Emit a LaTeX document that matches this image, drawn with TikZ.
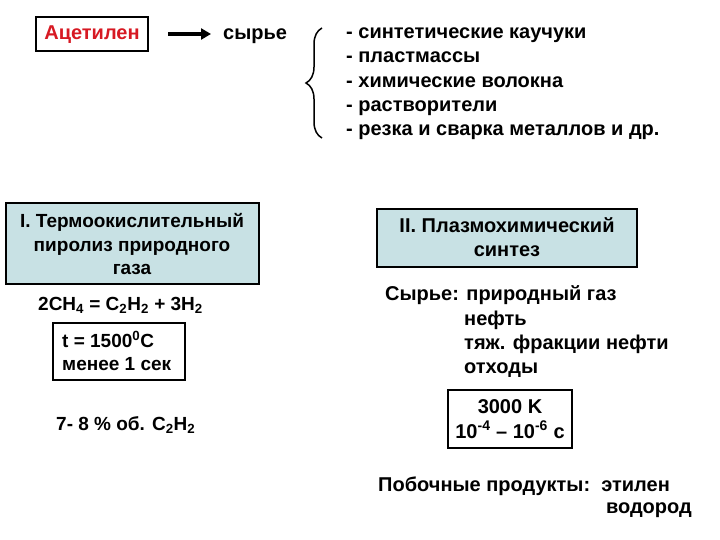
\documentclass[tikz,border=0pt]{standalone}
\usepackage{fontspec}
\setmainfont{Liberation Sans}
\usetikzlibrary{decorations.pathreplacing,arrows.meta}
\definecolor{boxblue}{RGB}{200,225,228}
\definecolor{acred}{RGB}{215,25,35}
\begin{document}
\begin{tikzpicture}[x=1pt,y=-1pt,
  every node/.style={inner sep=0pt, font=\bfseries\fontsize{20}{24}\selectfont},
  txt/.style={anchor=base west},
  smalltxt/.style={font=\bfseries\fontsize{19}{24}\selectfont},
  framebox/.style={draw, line width=1.8pt},
  bluebox/.style={draw, line width=2pt, fill=boxblue}]
\useasboundingbox (0,0) rectangle (720,540);
% top row
\draw[framebox, line width=1.5pt] (36,17) rectangle (148,51);
\node[anchor=base, text=acred] (acet) at (92,40) {Ацетилен};
\coordinate (acetE) at (148,34);
\node[txt] (syr) at (223,40) {сырье};
\coordinate (syrW) at (223,34);
\draw[line width=3.5pt, -{Triangle[length=10pt,width=11pt]}, shorten <=20pt, shorten >=12pt] (acetE) -- (syrW);
\coordinate (brB) at (322,138);
\coordinate (brT) at (322,28);
\draw[line width=1.5pt, decorate, decoration={brace, amplitude=16pt}] (brB) -- (brT);
\node[txt] (l1) at (346,39) {- синтетические каучуки};
\node[txt] (l2) at (346,63) {- пластмассы};
\node[txt] (l3) at (346,88) {- химические волокна};
\node[txt] (l4) at (346,112) {- растворители};
\node[txt] (l5) at (346,136) {- резка и сварка металлов и др.};
% left column
\draw[bluebox] (6,203) rectangle (259,284);
\node[anchor=base, smalltxt] (b1a) at (132,227) {I. Термоокислительный};
\node[anchor=base, smalltxt] (b1b) at (132,251.5) {пиролиз природного};
\node[anchor=base, smalltxt] (b1c) at (132,274) {газа};
\node[txt, smalltxt] (eq) at (38,310) {2CH\textsubscript{4} = C\textsubscript{2}H\textsubscript{2} + 3H\textsubscript{2}};
\draw[framebox] (53,323) rectangle (185,380);
\node[txt, smalltxt] (t1) at (62,347) {t = 1500\textsuperscript{0}C};
\node[txt, smalltxt] (t2) at (62,370) {менее 1 сек};
\node[txt, smalltxt] (pc) at (56,430) {7- 8 \% об. C\textsubscript{2}H\textsubscript{2}};
% right column
\draw[bluebox] (377,209) rectangle (637,267);
\node[anchor=base] (b2a) at (507,232.5) {II. Плазмохимический};
\node[anchor=base] (b2b) at (507,256) {синтез};
\node[txt] (s1) at (385,300) {Сырье: природный газ};
\node[txt] (s2) at (464,325) {нефть};
\node[txt] (s3) at (464,349) {тяж. фракции нефти};
\node[txt] (s4) at (464,373) {отходы};
\draw[framebox] (448,390) rectangle (572,448);
\node[anchor=base] (k1) at (510,413) {3000 K};
\node[anchor=base] (k2) at (510,438) {10\textsuperscript{-4} – 10\textsuperscript{-6} с};
\node[txt] (p1) at (378,491) {Побочные продукты:\ \ этилен};
\node[anchor=base east] (p2) at (692,513) {водород};
\end{tikzpicture}
\end{document}
